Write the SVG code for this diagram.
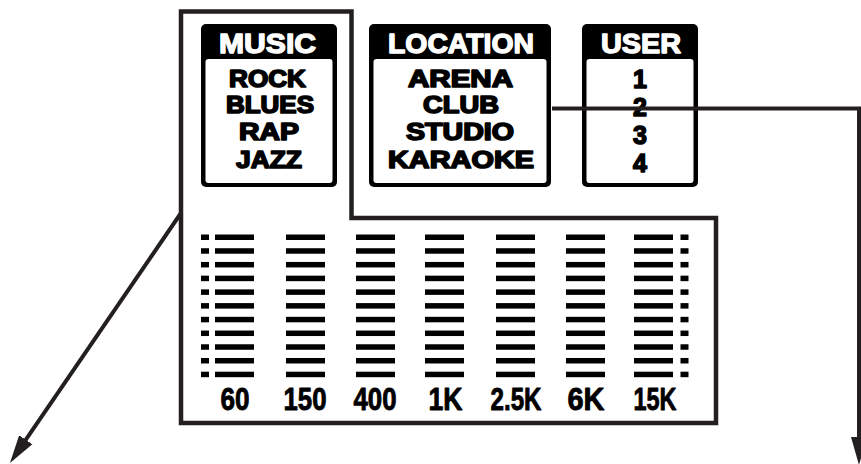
<svg xmlns="http://www.w3.org/2000/svg" width="861" height="464" viewBox="0 0 861 464">
<defs>
<style>
.frame{fill:none;stroke:#231f20;stroke-width:4.5;stroke-linejoin:miter}
.box{fill:#000}
.inner{fill:#fff}
.hdr{font-family:"Liberation Sans",Arial,sans-serif;font-weight:700;font-size:28px;fill:#fff;stroke:#fff;stroke-width:1.4;stroke-linejoin:round}
.item{font-family:"Liberation Sans",Arial,sans-serif;font-weight:700;font-size:23px;fill:#000;stroke:#000;stroke-width:1.6;stroke-linejoin:round}
.num{font-family:"Liberation Sans",Arial,sans-serif;font-weight:700;font-size:25px;fill:#000;stroke:#000;stroke-width:1.5;stroke-linejoin:round}
.freq{font-family:"Liberation Sans",Arial,sans-serif;font-weight:700;font-size:32px;fill:#000;stroke:#000;stroke-width:0.9;stroke-linejoin:round}
.bar{fill:#000}
.conn{fill:none;stroke:#231f20;stroke-width:4}
</style>
<marker id="ah" markerUnits="userSpaceOnUse" markerWidth="28" markerHeight="18" viewBox="0 0 28 16" refX="18" refY="8" orient="auto">
<path d="M0,0 L28,8 L0,16 z" fill="#231f20"/>
</marker>
<g id="col">
<rect class="bar" x="0" y="0" width="39" height="5.5"/>
<rect class="bar" x="0" y="13.72" width="39" height="5.5"/>
<rect class="bar" x="0" y="27.44" width="39" height="5.5"/>
<rect class="bar" x="0" y="41.16" width="39" height="5.5"/>
<rect class="bar" x="0" y="54.88" width="39" height="5.5"/>
<rect class="bar" x="0" y="68.6" width="39" height="5.5"/>
<rect class="bar" x="0" y="82.32" width="39" height="5.5"/>
<rect class="bar" x="0" y="96.04" width="39" height="5.5"/>
<rect class="bar" x="0" y="109.76" width="39" height="5.5"/>
<rect class="bar" x="0" y="123.48" width="39" height="5.5"/>
<rect class="bar" x="0" y="137.2" width="39" height="5.5"/>
</g>
<g id="dots">
<rect class="bar" x="0" y="0" width="8" height="5.5"/>
<rect class="bar" x="0" y="13.72" width="8" height="5.5"/>
<rect class="bar" x="0" y="27.44" width="8" height="5.5"/>
<rect class="bar" x="0" y="41.16" width="8" height="5.5"/>
<rect class="bar" x="0" y="54.88" width="8" height="5.5"/>
<rect class="bar" x="0" y="68.6" width="8" height="5.5"/>
<rect class="bar" x="0" y="82.32" width="8" height="5.5"/>
<rect class="bar" x="0" y="96.04" width="8" height="5.5"/>
<rect class="bar" x="0" y="109.76" width="8" height="5.5"/>
<rect class="bar" x="0" y="123.48" width="8" height="5.5"/>
<rect class="bar" x="0" y="137.2" width="8" height="5.5"/>
</g>
</defs>
<rect width="861" height="464" fill="#fff"/>

<g id="frame">
<path class="frame" d="M181,11.5 H351.5 V218 H716 V423 H181 Z"/>
</g>

<g id="music">
<rect class="box" x="201" y="24" width="136" height="163" rx="5"/>
<rect class="inner" x="205.5" y="59" width="127" height="124" rx="3"/>
<text class="hdr" x="219" y="52.5" textLength="97" lengthAdjust="spacingAndGlyphs">MUSIC</text>
<text class="item" x="229" y="86.5" textLength="77" lengthAdjust="spacingAndGlyphs">ROCK</text>
<text class="item" x="226" y="112.5" textLength="88" lengthAdjust="spacingAndGlyphs">BLUES</text>
<text class="item" x="239" y="139.5" textLength="60" lengthAdjust="spacingAndGlyphs">RAP</text>
<text class="item" x="236" y="167.5" textLength="66" lengthAdjust="spacingAndGlyphs">JAZZ</text>
</g>

<g id="location">
<rect class="box" x="369" y="24" width="182" height="163" rx="5"/>
<rect class="inner" x="373.5" y="59" width="173" height="124" rx="3"/>
<text class="hdr" x="388" y="52.5" textLength="146" lengthAdjust="spacingAndGlyphs">LOCATION</text>
<text class="item" x="408" y="86.5" textLength="105" lengthAdjust="spacingAndGlyphs">ARENA</text>
<text class="item" x="423" y="112.5" textLength="76" lengthAdjust="spacingAndGlyphs">CLUB</text>
<text class="item" x="406" y="139.5" textLength="108" lengthAdjust="spacingAndGlyphs">STUDIO</text>
<text class="item" x="388" y="167.5" textLength="146" lengthAdjust="spacingAndGlyphs">KARAOKE</text>
</g>

<g id="user">
<rect class="box" x="582" y="24" width="116" height="163" rx="5"/>
<rect class="inner" x="586.5" y="59" width="107" height="124" rx="3"/>
<text class="hdr" x="601" y="52.5" textLength="80" lengthAdjust="spacingAndGlyphs">USER</text>
<text class="num" x="640" y="87.5" text-anchor="middle">1</text>
<text class="num" x="640" y="115.5" text-anchor="middle">2</text>
<text class="num" x="640" y="143.5" text-anchor="middle">3</text>
<text class="num" x="640" y="171.5" text-anchor="middle">4</text>
</g>

<g id="equalizer">
<use href="#dots" x="201" y="234.5"/>
<use href="#col" x="215" y="234.5"/>
<use href="#col" x="286" y="234.5"/>
<use href="#col" x="356" y="234.5"/>
<use href="#col" x="425" y="234.5"/>
<use href="#col" x="496" y="234.5"/>
<use href="#col" x="566" y="234.5"/>
<use href="#col" x="634" y="234.5"/>
<use href="#dots" x="680.5" y="234.5"/>
<text class="freq" x="220.5" y="409.5" textLength="29" lengthAdjust="spacingAndGlyphs">60</text>
<text class="freq" x="283.5" y="409.5" textLength="43" lengthAdjust="spacingAndGlyphs">150</text>
<text class="freq" x="353.5" y="409.5" textLength="43" lengthAdjust="spacingAndGlyphs">400</text>
<text class="freq" x="428.5" y="409.5" textLength="34" lengthAdjust="spacingAndGlyphs">1K</text>
<text class="freq" x="490.5" y="409.5" textLength="51" lengthAdjust="spacingAndGlyphs">2.5K</text>
<text class="freq" x="567.5" y="409.5" textLength="37" lengthAdjust="spacingAndGlyphs">6K</text>
<text class="freq" x="633.5" y="409.5" textLength="43" lengthAdjust="spacingAndGlyphs">15K</text>
</g>

<g id="connectors">
<path class="conn" d="M181,213 L15.6,454.7" marker-end="url(#ah)"/>
<path class="conn" d="M552,108.5 H859 V455" marker-end="url(#ah)"/>
</g>
</svg>
